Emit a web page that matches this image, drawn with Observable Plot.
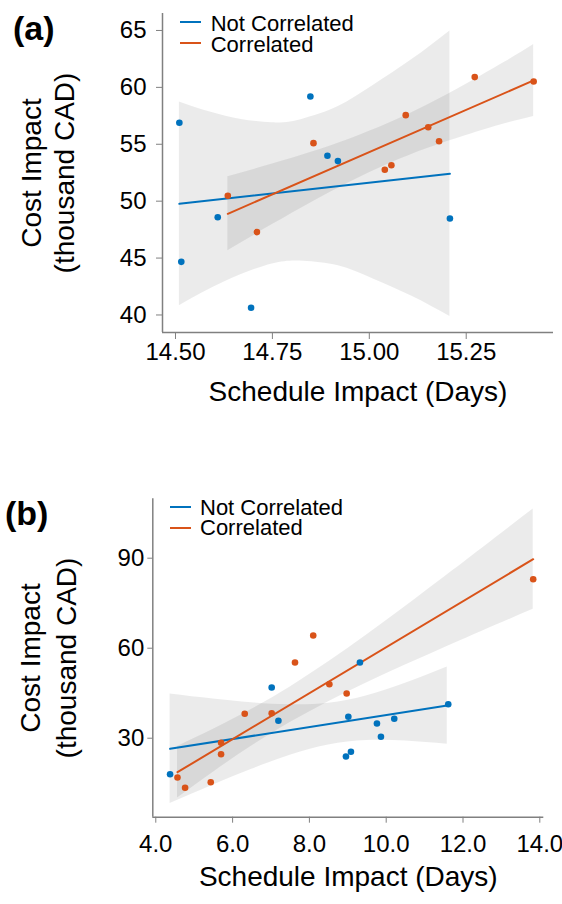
<!DOCTYPE html>
<html><head><meta charset="utf-8">
<script src="https://cdn.jsdelivr.net/npm/d3@7"></script>
<script src="https://cdn.jsdelivr.net/npm/@observablehq/plot@0.6"></script>
<style>
body{margin:0;background:#fff;}
#wrap{position:relative;width:562px;height:904px;font-family:"Liberation Sans",Arial,sans-serif;overflow:hidden;background:#fff}
.chart{position:absolute;left:0}
.panel{position:absolute;font-weight:bold;font-size:34px;line-height:1;color:#000}
.row{position:absolute;white-space:nowrap;font-size:22px;line-height:19px;height:19px;color:#000}
.sw{position:absolute;height:2px;width:21px}
</style></head><body><div id="wrap"></div>
<script>
const seriesNames = ["Not Correlated", "Correlated"];
const seriesColors = ["#0072BD", "#D95319"];
const xLabel = "Schedule Impact (Days)";
const yLabel = "Cost Impact\n(thousand CAD)";

// ---------- Panel (a) ----------
const aXTicks = [14.5, 14.75, 15.0, 15.25];
const aYTicks = [40, 45, 50, 55, 60, 65];
const aXDomain = [14.4665, 15.4752];
const aYDomain = [38.46, 66.49];
const aNotX = [14.510, 14.515, 14.609, 14.695, 14.848, 14.892, 14.919, 15.208];
const aNotY = [56.89, 44.67, 48.59, 40.63, 59.20, 53.99, 53.52, 48.48];
const aCorX = [14.635, 14.710, 14.856, 15.040, 15.057, 15.094, 15.152, 15.180, 15.272, 15.424];
const aCorY = [50.47, 47.28, 55.10, 52.76, 53.16, 57.56, 56.50, 55.27, 60.90, 60.52];
const aNotFitX = [14.510, 15.208];
const aNotFitY = [49.77, 52.41];
const aCorFitX = [14.635, 15.424];
const aCorFitY = [48.89, 60.61];
const aNotBandX = [14.51, 14.63, 14.75, 14.83, 14.92, 15.01, 15.11, 15.208];
const aNotBandLo = [40.82, 42.97, 44.48, 44.73, 44.32, 43.16, 41.64, 39.86];
const aNotBandHi = [58.72, 57.47, 56.88, 57.23, 58.32, 60.16, 62.44, 64.96];
const aCorBandX = [14.635, 14.75, 14.85, 14.95, 15.05, 15.15, 15.25, 15.35, 15.424];
const aCorBandLo = [45.64, 47.94, 49.87, 51.67, 53.26, 54.62, 55.77, 56.80, 57.45];
const aCorBandHi = [52.14, 53.26, 54.29, 55.47, 56.84, 58.46, 60.27, 62.22, 63.77];

// ---------- Panel (b) ----------
const bXTicks = [4, 6, 8, 10, 12, 14];
const bYTicks = [30, 60, 90];
const bXDomain = [3.922, 14.104];
const bYDomain = [3.67, 109.8];
const bNotX = [4.372, 7.018, 7.193, 9.316, 9.014, 8.952, 9.082, 9.759, 9.863, 10.21, 11.616];
const bNotY = [18.0, 46.9, 35.8, 55.23, 37.13, 23.9, 25.47, 34.9, 30.47, 36.47, 41.33];
const bCorX = [4.565, 4.763, 5.431, 5.70, 5.70, 6.316, 7.018, 7.625, 8.10, 8.52, 8.97, 13.828];
const bCorY = [16.9, 13.47, 15.33, 24.67, 28.47, 38.13, 38.33, 55.23, 64.23, 48.0, 44.9, 83.0];
const bNotFitX = [4.372, 11.59];
const bNotFitY = [26.47, 40.9];
const bCorFitX = [4.565, 13.828];
const bCorFitY = [18.67, 89.67];
const bNotBandX = [4.372, 5.5, 6.5, 7.5, 8.5, 9.5, 10.5, 11.59];
const bNotBandLo = [8.26, 14.44, 19.65, 24.30, 27.76, 29.25, 29.09, 27.99];
const bNotBandHi = [44.74, 43.06, 41.83, 41.16, 41.68, 44.17, 48.31, 53.75];
const bCorBandX = [4.565, 5.5, 6.5, 7.5, 8.5, 9.5, 10.5, 11.5, 12.5, 13.828];
const bCorBandLo = [10.07, 18.69, 27.37, 35.23, 42.19, 48.49, 54.40, 60.10, 65.66, 72.97];
const bCorBandHi = [27.27, 32.99, 39.63, 47.11, 55.47, 64.51, 73.92, 83.56, 93.32, 106.37];

const pts = (xs, ys, s) => xs.map((x, i) => ({x, y: ys[i], s}));
const band = (xs, lo, hi, s) => xs.map((x, i) => ({x, lo: lo[i], hi: hi[i], s}));

const axisGray = "#808080";

function makePanel(c) {
  const points = [...pts(c.notX, c.notY, seriesNames[0]), ...pts(c.corX, c.corY, seriesNames[1])];
  const fits = [...pts(c.notFitX, c.notFitY, seriesNames[0]), ...pts(c.corFitX, c.corFitY, seriesNames[1])];
  const bands = [...band(c.notBX, c.notBLo, c.notBHi, seriesNames[0]), ...band(c.corBX, c.corBLo, c.corBHi, seriesNames[1])];
  return Plot.plot({
    width: 562, height: c.height,
    marginTop: c.mt, marginBottom: c.mb, marginLeft: c.ml, marginRight: c.mr,
    x: {type: "linear", domain: c.xDomain},
    y: {type: "linear", domain: c.yDomain},
    color: {domain: seriesNames, range: seriesColors},
    style: {fontFamily: "'Liberation Sans', Arial, sans-serif", color: "black", background: "white", overflow: "visible"},
    marks: [
      Plot.areaY(bands, {x: "x", y1: "lo", y2: "hi", z: "s", fill: "black", fillOpacity: 0.08, curve: "natural"}),
      Plot.line(fits, {x: "x", y: "y", z: "s", stroke: "s", strokeWidth: 2}),
      Plot.dot(points, {x: "x", y: "y", fill: "s", r: 3.3}),
      Plot.ruleX([c.xDomain[0]], {stroke: axisGray, strokeWidth: 1.5}),
      Plot.ruleY([c.yDomain[0]], {stroke: axisGray, strokeWidth: 1.5}),
      Plot.axisX({ticks: c.xTicks, tickFormat: c.xFmt, tickSize: c.xTickSize, tickPadding: c.xTickPad, fontSize: 24, stroke: axisGray, fill: "black", label: null}),
      Plot.axisY({ticks: c.yTicks, tickFormat: d => String(d), tickSize: c.yTickSize, tickPadding: c.yTickPad, fontSize: 24, stroke: axisGray, fill: "black", label: null}),
      Plot.text([xLabel], {frameAnchor: "bottom", dy: c.xLabelDy, fontSize: 28, fill: "black"}),
      Plot.text([yLabel], {frameAnchor: "left", textAnchor: "middle", lineAnchor: "middle", rotate: -90, dx: c.yLabelDx, fontSize: 28, lineHeight: c.yLabelLH, fill: "black"})
    ]
  });
}

const wrap = document.getElementById("wrap");

function place(el, top) {
  const d = document.createElement("div");
  d.className = "chart";
  d.style.top = top + "px";
  d.appendChild(el);
  wrap.appendChild(d);
}

place(makePanel({
  height: 440, mt: 13, mb: 108, ml: 162, mr: 9,
  xDomain: aXDomain, yDomain: aYDomain, xTicks: aXTicks, yTicks: aYTicks,
  xFmt: d => d.toFixed(2), xTickSize: 7, xTickPad: 3, yTickSize: 6, yTickPad: 10,
  xLabelDy: 68, yLabelDx: -115.8, yLabelLH: 1.2,
  notX: aNotX, notY: aNotY, corX: aCorX, corY: aCorY,
  notFitX: aNotFitX, notFitY: aNotFitY, corFitX: aCorFitX, corFitY: aCorFitY,
  notBX: aNotBandX, notBLo: aNotBandLo, notBHi: aNotBandHi,
  corBX: aCorBandX, corBLo: aCorBandLo, corBHi: aCorBandHi
}), 0);

place(makePanel({
  height: 464, mt: 58.3, mb: 87.3, ml: 152.3, mr: 18.7,
  xDomain: bXDomain, yDomain: bYDomain, xTicks: bXTicks, yTicks: bYTicks,
  xFmt: d => d.toFixed(1), xTickSize: 6, xTickPad: 12, yTickSize: 5, yTickPad: 3.5,
  xLabelDy: 69, yLabelDx: -106.8, yLabelLH: 1.29,
  notX: bNotX, notY: bNotY, corX: bCorX, corY: bCorY,
  notFitX: bNotFitX, notFitY: bNotFitY, corFitX: bCorFitX, corFitY: bCorFitY,
  notBX: bNotBandX, notBLo: bNotBandLo, notBHi: bNotBandHi,
  corBX: bCorBandX, corBLo: bCorBandLo, corBHi: bCorBandHi
}), 440);

// panel labels
const panelLabels = [["(a)", 13, 11.2], ["(b)", 5, 496.2]];
for (const [t, l, tp] of panelLabels) {
  const d = document.createElement("div");
  d.className = "panel"; d.textContent = t;
  d.style.left = l + "px"; d.style.top = tp + "px";
  wrap.appendChild(d);
}

// legends
const legends = [
  {swLeft: 180, textLeft: 210.7, swY: [22.3, 43.3], textTop: [13.9, 34.6]},
  {swLeft: 170, textLeft: 200, swY: [506.7, 528.3], textTop: [497.9, 518.4]}
];
for (const lg of legends) {
  seriesNames.forEach((name, i) => {
    const sw = document.createElement("div");
    sw.className = "sw";
    sw.style.left = lg.swLeft + "px";
    sw.style.top = (lg.swY[i] - 1) + "px";
    sw.style.background = seriesColors[i];
    wrap.appendChild(sw);
    const r = document.createElement("div");
    r.className = "row"; r.textContent = name;
    r.style.left = lg.textLeft + "px"; r.style.top = lg.textTop[i] + "px";
    wrap.appendChild(r);
  });
}
</script></body></html>
